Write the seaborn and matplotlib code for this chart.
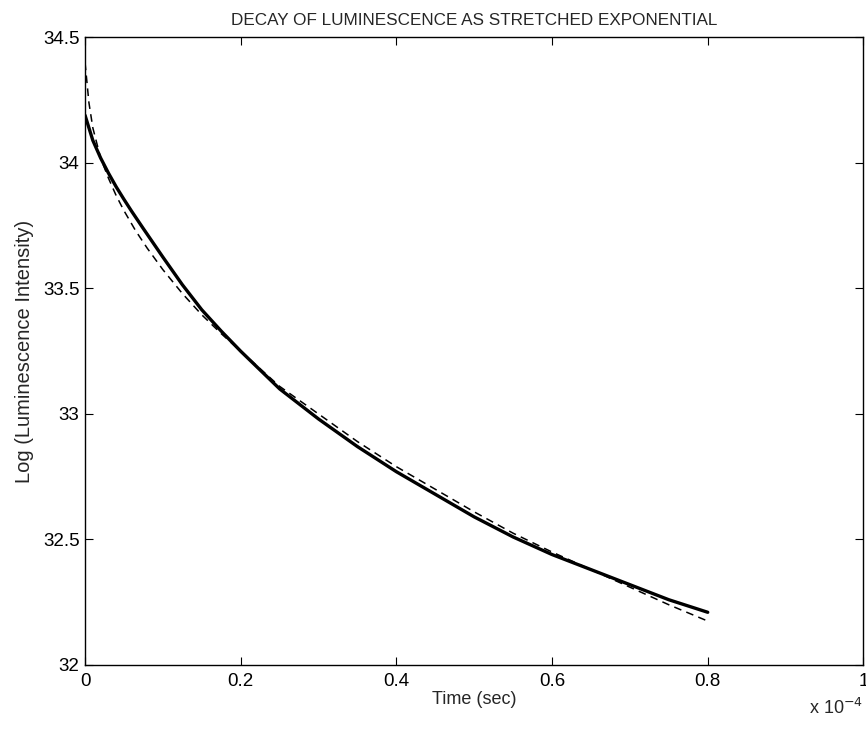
import matplotlib
matplotlib.use("Agg")
import matplotlib.pyplot as plt
import seaborn as sns
import pandas as pd

# Time in units of 1e-4 s
time_solid = [0, 0.01, 0.02, 0.03, 0.04, 0.05, 0.06, 0.075, 0.1, 0.125, 0.15,
              0.175, 0.2, 0.25, 0.3, 0.35, 0.4, 0.45, 0.5, 0.55, 0.6, 0.65,
              0.7, 0.75, 0.8]
log_solid = [34.19, 34.09, 34.02, 33.96, 33.905, 33.855, 33.807, 33.738, 33.625,
             33.515, 33.415, 33.33, 33.25, 33.10, 32.98, 32.87, 32.77, 32.68,
             32.59, 32.51, 32.44, 32.38, 32.32, 32.26, 32.21]

time_dashed = [0, 0.005, 0.01, 0.02, 0.03, 0.04, 0.05, 0.065, 0.08, 0.1, 0.125,
               0.15, 0.175, 0.2, 0.25, 0.3, 0.35, 0.4, 0.45, 0.5, 0.55, 0.6,
               0.65, 0.7, 0.75, 0.8]
log_dashed = [34.40, 34.24, 34.14, 34.02, 33.94, 33.87, 33.81, 33.73, 33.66,
              33.575, 33.48, 33.395, 33.32, 33.25, 33.11, 33.00, 32.89, 32.79,
              32.70, 32.61, 32.525, 32.45, 32.38, 32.31, 32.24, 32.175]

x_ticks = [0, 0.2, 0.4, 0.6, 0.8, 1]
x_tick_labels = ["0", "0.2", "0.4", "0.6", "0.8", "1"]
y_ticks = [32, 32.5, 33, 33.5, 34, 34.5]
y_tick_labels = ["32", "32.5", "33", "33.5", "34", "34.5"]

sns.set_style("ticks")
plt.rcParams['font.family'] = ['Liberation Sans', 'DejaVu Sans']

fig = plt.figure(figsize=(8.66, 7.29), dpi=100)
ax = fig.add_axes([0.0982, 0.0878, 0.8988, 0.8608])

df_solid = pd.DataFrame({"t": time_solid, "y": log_solid})
df_dashed = pd.DataFrame({"t": time_dashed, "y": log_dashed})

sns.lineplot(data=df_dashed, x="t", y="y", ax=ax, color="black",
             linewidth=1.1, linestyle=(0, (5, 3.5)), sort=False)
sns.lineplot(data=df_solid, x="t", y="y", ax=ax, color="black",
             linewidth=2.4, sort=False)

ax.set_xlim(0, 1)
ax.set_ylim(32, 34.5)
ax.set_xticks(x_ticks)
ax.set_xticklabels(x_tick_labels)
ax.set_yticks(y_ticks)
ax.set_yticklabels(y_tick_labels)
ax.tick_params(direction="in", length=6, width=0.8, top=True, right=True,
               labelsize=13.5, colors="black")
ax.tick_params(axis="x", pad=6)
ax.tick_params(axis="y", pad=4)
for s in ax.spines.values():
    s.set_visible(True)
    s.set_linewidth(1.0)
    s.set_color("black")

ax.set_title("DECAY OF LUMINESCENCE AS STRETCHED EXPONENTIAL", fontsize=12.3, pad=9)
ax.set_xlabel("Time (sec)", fontsize=13)
ax.xaxis.set_label_coords(0.5, -0.041)
ax.set_ylabel("Log (Luminescence Intensity)", fontsize=14.5)
ax.yaxis.set_label_coords(-0.066, 0.5)
ax.text(1.0, -0.052, r"x 10$^{-4}$", transform=ax.transAxes, ha="right",
        va="top", fontsize=13)

fig.savefig("out.png", dpi=100)
